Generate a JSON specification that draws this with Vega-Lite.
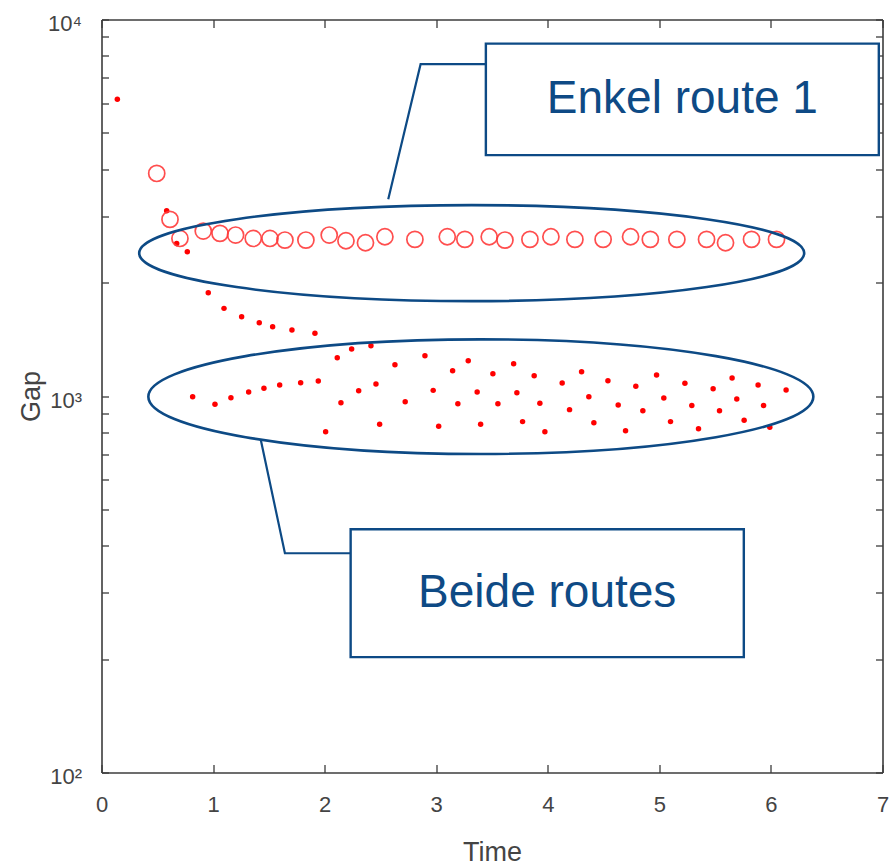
{
  "$schema": "https://vega.github.io/schema/vega-lite/v6.json",
  "width": 781,
  "height": 753,
  "autosize": {"type": "none"},
  "padding": {"left": 101.5, "top": 19.5, "right": 12.5, "bottom": 94.5},
  "background": "white",
  "config": {
    "view": {"stroke": null},
    "font": "Liberation Sans",
    "axis": {
      "grid": false,
      "domainColor": "#3c3c3c",
      "domainWidth": 1.6,
      "tickColor": "#3c3c3c",
      "tickWidth": 1.3,
      "labelFont": "Liberation Sans",
      "labelFontSize": 22,
      "labelColor": "#444444",
      "labelOverlap": false,
      "labelFlush": false,
      "titleFont": "Liberation Sans",
      "titleFontSize": 27,
      "titleFontWeight": "normal",
      "titleColor": "#444444"
    }
  },
  "datasets": {
    "beide": [
      {"Time": 0.142, "Gap": 6143},
      {"Time": 0.584, "Gap": 3104},
      {"Time": 0.674, "Gap": 2543},
      {"Time": 0.769, "Gap": 2416},
      {"Time": 0.957, "Gap": 1880},
      {"Time": 1.098, "Gap": 1709},
      {"Time": 1.256, "Gap": 1624},
      {"Time": 1.414, "Gap": 1565},
      {"Time": 1.534, "Gap": 1528},
      {"Time": 1.707, "Gap": 1497},
      {"Time": 1.913, "Gap": 1467},
      {"Time": 2.113, "Gap": 1264},
      {"Time": 2.242, "Gap": 1333},
      {"Time": 2.415, "Gap": 1360},
      {"Time": 0.817, "Gap": 996},
      {"Time": 1.017, "Gap": 951},
      {"Time": 1.160, "Gap": 990},
      {"Time": 1.319, "Gap": 1025},
      {"Time": 1.456, "Gap": 1048},
      {"Time": 1.597, "Gap": 1069},
      {"Time": 1.785, "Gap": 1085},
      {"Time": 1.943, "Gap": 1096},
      {"Time": 2.146, "Gap": 960},
      {"Time": 2.305, "Gap": 1033},
      {"Time": 2.460, "Gap": 1076},
      {"Time": 2.009, "Gap": 804},
      {"Time": 2.493, "Gap": 841},
      {"Time": 2.630, "Gap": 1211},
      {"Time": 2.722, "Gap": 966},
      {"Time": 2.899, "Gap": 1279},
      {"Time": 2.973, "Gap": 1035},
      {"Time": 3.022, "Gap": 831},
      {"Time": 3.147, "Gap": 1167},
      {"Time": 3.194, "Gap": 954},
      {"Time": 3.287, "Gap": 1241},
      {"Time": 3.367, "Gap": 1025},
      {"Time": 3.398, "Gap": 841},
      {"Time": 3.508, "Gap": 1146},
      {"Time": 3.553, "Gap": 954},
      {"Time": 3.694, "Gap": 1218},
      {"Time": 3.723, "Gap": 1020},
      {"Time": 3.774, "Gap": 855},
      {"Time": 3.878, "Gap": 1132},
      {"Time": 3.929, "Gap": 956},
      {"Time": 3.974, "Gap": 804},
      {"Time": 4.129, "Gap": 1083},
      {"Time": 4.195, "Gap": 920},
      {"Time": 4.303, "Gap": 1160},
      {"Time": 4.368, "Gap": 996},
      {"Time": 4.413, "Gap": 849},
      {"Time": 4.539, "Gap": 1098},
      {"Time": 4.631, "Gap": 946},
      {"Time": 4.697, "Gap": 809},
      {"Time": 4.789, "Gap": 1061},
      {"Time": 4.852, "Gap": 914},
      {"Time": 4.975, "Gap": 1137},
      {"Time": 5.040, "Gap": 988},
      {"Time": 5.100, "Gap": 855},
      {"Time": 5.229, "Gap": 1081},
      {"Time": 5.291, "Gap": 943},
      {"Time": 5.351, "Gap": 819},
      {"Time": 5.482, "Gap": 1046},
      {"Time": 5.539, "Gap": 914},
      {"Time": 5.652, "Gap": 1116},
      {"Time": 5.694, "Gap": 982},
      {"Time": 5.760, "Gap": 862},
      {"Time": 5.885, "Gap": 1069},
      {"Time": 5.934, "Gap": 943},
      {"Time": 5.990, "Gap": 826},
      {"Time": 6.136, "Gap": 1037}
    ],
    "enkel": [
      {"Time": 0.495, "Gap": 3901},
      {"Time": 0.614, "Gap": 2945},
      {"Time": 0.703, "Gap": 2621},
      {"Time": 0.912, "Gap": 2742},
      {"Time": 1.062, "Gap": 2704},
      {"Time": 1.202, "Gap": 2676},
      {"Time": 1.360, "Gap": 2621},
      {"Time": 1.510, "Gap": 2621},
      {"Time": 1.644, "Gap": 2595},
      {"Time": 1.832, "Gap": 2595},
      {"Time": 2.041, "Gap": 2676},
      {"Time": 2.191, "Gap": 2584},
      {"Time": 2.366, "Gap": 2553},
      {"Time": 2.540, "Gap": 2648},
      {"Time": 2.809, "Gap": 2606},
      {"Time": 3.099, "Gap": 2648},
      {"Time": 3.257, "Gap": 2606},
      {"Time": 3.475, "Gap": 2648},
      {"Time": 3.616, "Gap": 2595},
      {"Time": 3.840, "Gap": 2606},
      {"Time": 4.028, "Gap": 2648},
      {"Time": 4.243, "Gap": 2606},
      {"Time": 4.496, "Gap": 2606},
      {"Time": 4.742, "Gap": 2648},
      {"Time": 4.919, "Gap": 2606},
      {"Time": 5.157, "Gap": 2606},
      {"Time": 5.423, "Gap": 2606},
      {"Time": 5.593, "Gap": 2553},
      {"Time": 5.826, "Gap": 2606},
      {"Time": 6.050, "Gap": 2606}
    ],
    "groups": [
      {"group": "Enkel route 1", "Time": 3.318, "Gap": 2396},
      {"group": "Beide routes", "Time": 3.400, "Gap": 996}
    ],
    "boxes": [
      {"label": "Enkel route 1", "x1": 3.445, "x2": 6.967, "y1": 8627, "y2": 4363, "tx": 5.206, "ty": 6143},
      {"label": "Beide routes", "x1": 2.233, "x2": 5.757, "y1": 442.7, "y2": 202.5, "tx": 3.995, "ty": 299.4}
    ],
    "leaders": [
      {"id": "Enkel route 1", "k": 1, "Time": 3.445, "Gap": 7607},
      {"id": "Enkel route 1", "k": 2, "Time": 2.860, "Gap": 7607},
      {"id": "Enkel route 1", "k": 3, "Time": 2.570, "Gap": 3329},
      {"id": "Beide routes", "k": 1, "Time": 2.233, "Gap": 382.3},
      {"id": "Beide routes", "k": 2, "Time": 1.644, "Gap": 382.3},
      {"id": "Beide routes", "k": 3, "Time": 1.4265, "Gap": 767.5}
    ]
  },
  "layer": [
    {
      "data": {"name": "beide"},
      "mark": {"type": "point", "filled": true, "shape": "circle", "size": 30, "color": "#ff0000", "opacity": 1},
      "encoding": {
        "x": {
          "field": "Time", "type": "quantitative",
          "scale": {"domain": [0, 7], "nice": false, "zero": false},
          "axis": {
            "orient": "bottom",
            "values": [0, 1, 2, 3, 4, 5, 6, 7],
            "tickSize": -8,
            "labelPadding": 30,
            "title": "Time",
            "titleBaseline": "alphabetic",
            "titleY": 88
          }
        },
        "y": {
          "field": "Gap", "type": "quantitative",
          "scale": {"type": "log", "domain": [100, 10000], "nice": false},
          "axis": {
            "orient": "left",
            "values": [100, 200, 300, 400, 500, 600, 700, 800, 900, 1000, 2000, 3000, 4000, 5000, 6000, 7000, 8000, 9000, 10000],
            "tickSize": -7,
            "labelPadding": 27,
            "labelBaseline": "middle",
            "labelOffset": 4,
            "labelExpr": "datum.value == 100 ? '10²' : datum.value == 1000 ? '10³' : datum.value == 10000 ? '10⁴' : ''",
            "title": "Gap",
            "titleBaseline": "alphabetic",
            "titleX": -62
          }
        }
      }
    },
    {
      "data": {"name": "enkel"},
      "mark": {"type": "point", "filled": false, "shape": "circle", "size": 260, "color": "#ff3b3b", "strokeWidth": 1.7, "opacity": 0.9},
      "encoding": {
        "x": {
          "field": "Time", "type": "quantitative",
          "axis": {"orient": "top", "values": [0, 1, 2, 3, 4, 5, 6, 7], "tickSize": -8, "labels": false, "title": null}
        },
        "y": {
          "field": "Gap", "type": "quantitative",
          "axis": {
            "orient": "right",
            "values": [100, 200, 300, 400, 500, 600, 700, 800, 900, 1000, 2000, 3000, 4000, 5000, 6000, 7000, 8000, 9000, 10000],
            "tickSize": -7, "labels": false, "title": null
          }
        }
      }
    },
    {
      "data": {"name": "groups"},
      "mark": {"type": "point", "filled": false, "strokeWidth": 2.6, "color": "#0d4a85", "opacity": 1, "size": 442225},
      "encoding": {
        "x": {"field": "Time", "type": "quantitative", "axis": null},
        "y": {"field": "Gap", "type": "quantitative", "axis": null},
        "shape": {
          "field": "group", "type": "nominal", "legend": null,
          "scale": {
            "domain": ["Enkel route 1", "Beide routes"],
            "range": [
              "M -1 0 A 1 0.1444 0 1 1 1 0 A 1 0.1444 0 1 1 -1 0 Z",
              "M -1 0 A 1 0.1724 0 1 1 1 0 A 1 0.1724 0 1 1 -1 0 Z"
            ]
          }
        }
      }
    },
    {
      "data": {"name": "leaders"},
      "mark": {"type": "line", "color": "#0d4a85", "strokeWidth": 2.2},
      "encoding": {
        "x": {"field": "Time", "type": "quantitative", "axis": null},
        "y": {"field": "Gap", "type": "quantitative", "axis": null},
        "detail": {"field": "id", "type": "nominal"},
        "order": {"field": "k", "type": "quantitative"}
      }
    },
    {
      "data": {"name": "boxes"},
      "mark": {"type": "rect", "fill": "white", "stroke": "#0d4a85", "strokeWidth": 2.4},
      "encoding": {
        "x": {"field": "x1", "type": "quantitative", "axis": null},
        "x2": {"field": "x2"},
        "y": {"field": "y1", "type": "quantitative", "axis": null},
        "y2": {"field": "y2"}
      }
    },
    {
      "data": {"name": "boxes"},
      "mark": {"type": "text", "font": "Liberation Sans", "fontSize": 46, "color": "#0e4a85", "align": "center", "baseline": "middle"},
      "encoding": {
        "x": {"field": "tx", "type": "quantitative", "axis": null},
        "y": {"field": "ty", "type": "quantitative", "axis": null},
        "text": {"field": "label"}
      }
    }
  ],
  "resolve": {"axis": {"x": "independent", "y": "independent"}}
}
